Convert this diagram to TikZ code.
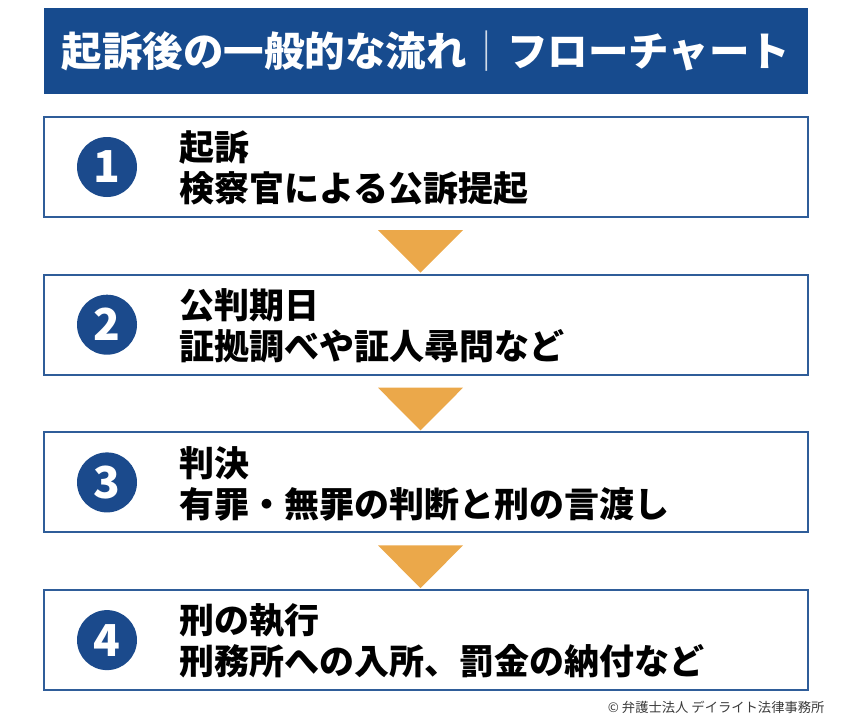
\documentclass[tikz,border=0pt]{standalone}
\usepackage{fontspec}
\setmainfont{Noto Sans CJK JP}
\usepackage{tikz}
\usetikzlibrary{calc}
\definecolor{titlecolor}{HTML}{174B8E}
\definecolor{framecolor}{HTML}{2F5D99}
\definecolor{numcolor}{HTML}{1B4A8C}
\definecolor{arrowcolor}{HTML}{EBA84A}
\definecolor{creditcolor}{HTML}{3A3A3A}

\begin{document}
\begin{tikzpicture}[x=1pt, y=-1pt]
    \tikzset{%
        titlebar/.style={fill=titlecolor, minimum width=764pt, minimum height=86pt, inner sep=0pt},
        stepbox/.style={draw=framecolor, line width=2pt, fill=white, minimum width=764pt, minimum height=100pt, inner sep=0pt},
        stepnum/.style={circle, fill=numcolor, minimum size=60pt, inner sep=0pt, text=white,
                font=\bfseries\fontsize{44pt}{44pt}\selectfont},
        steptext/.style={anchor=west, align=left, inner sep=0pt,
                font=\bfseries\fontsize{35pt}{41pt}\selectfont},
        downarrow/.style={fill=arrowcolor}
    }

    \useasboundingbox (0, 0) rectangle (850, 721);

    % title
    \node [titlebar] (title) at (426, 51) {};
    \node [text=white, font=\bfseries\fontsize{40.5pt}{40.5pt}\selectfont] (titletext) at (title.center)
        {起訴後の一般的な流れ{\mdseries\color{white!80!titlecolor}｜}フローチャート};

    % steps
    \foreach \line/\sub [count=\i] in {起訴/検察官による公訴提起,
            公判期日/証拠調べや証人尋問など,
            判決/有罪・無罪の判断と刑の言渡し,
            刑の執行/刑務所への入所、罰金の納付など} {%
            \node [stepbox] (box\i) at (426, {167+(\i-1)*157.7}) {};
            \node [stepnum] (num\i) at ($(box\i.west)+(64, 0)$) {\i};
            \node [steptext] (text\i) at ($(box\i.west)+(136, 1)$) {\line\\\sub};
        };

    % arrows
    \foreach \i [evaluate=\i as \j using int(\i+1)] in {1, 2, 3} {%
            \fill [downarrow] ($(box\i.south)+(-48, 12)$) -- ($(box\i.south)+(37, 12)$)
                -- ($(box\j.north)+(-5.5, -1)$) -- cycle;
        };

    \node [anchor=east, text=creditcolor, font=\fontsize{13.3pt}{13.3pt}\selectfont] (credit) at (828, 707)
        {© 弁護士法人 デイライト法律事務所};
\end{tikzpicture}
\end{document}
